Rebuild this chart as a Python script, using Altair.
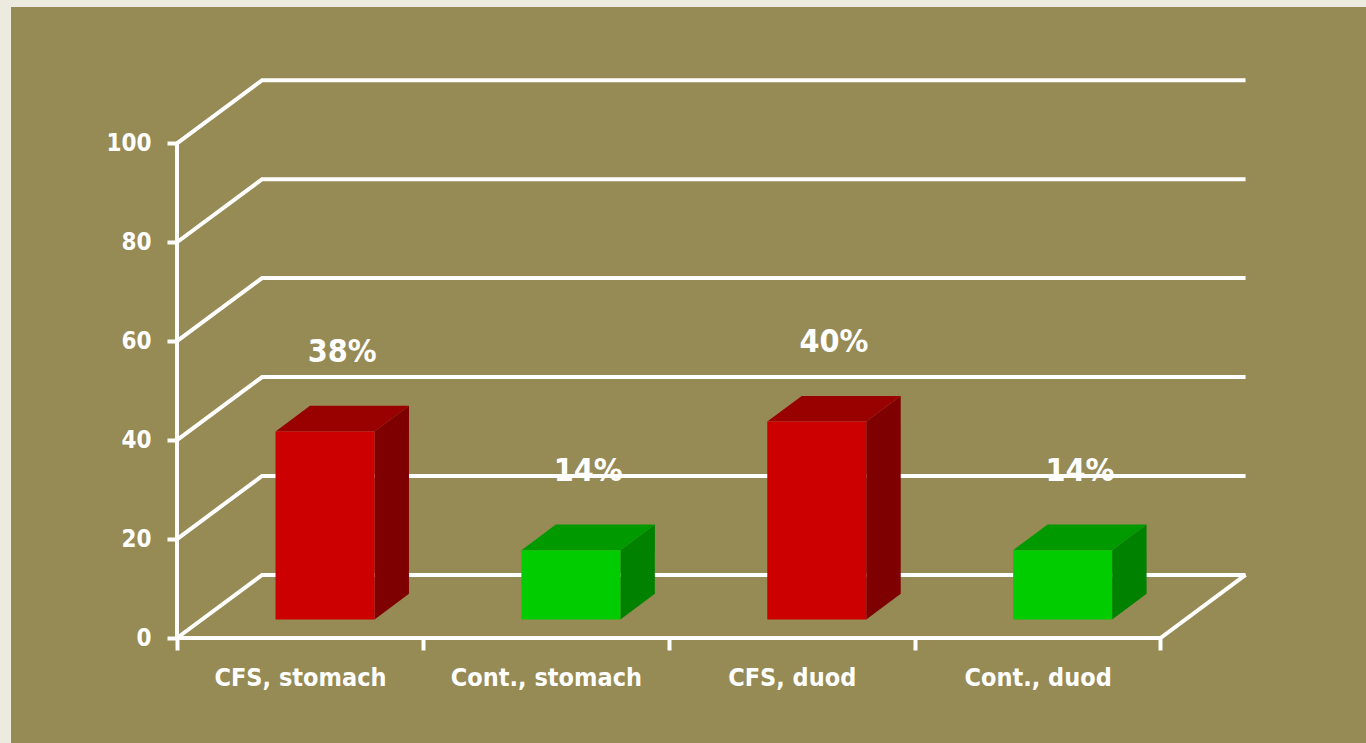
import altair as alt
import pandas as pd

# ---------------- data ----------------
categories = ["CFS, stomach", "Cont., stomach", "CFS, duod", "Cont., duod"]
groups = ["CFS", "Cont.", "CFS", "Cont."]
values = [38, 14, 40, 14]
value_labels = ["38%", "14%", "40%", "14%"]
y_ticks = [0, 20, 40, 60, 80, 100]

# ---------------- style / projection ----------------
PALETTE = {
    "CFS": {"front": "#CC0000", "top": "#990000", "side": "#7F0000"},
    "Cont.": {"front": "#00CC00", "top": "#009900", "side": "#008200"},
}
OLIVE = "#968A55"
FRAME = "#EDEAE0"
FONT = "DejaVu Sans Condensed, Roboto, sans-serif"

DX = 0.346      # depth offset of the back wall (category units)
DY = 12.75      # depth offset of the back wall (value units)
D0, D1 = 0.295, 0.70   # bar depth extent (fraction of full depth)
BAR_W = 0.4026  # bar width (category units)
LABEL_GAP = 13.5
N = len(categories)
X_MAX = N + DX + 0.01
Y_MAX = 113.0
W, H = 1071, 559

# ---------------- derived tables ----------------
front_rows, top_rows, side_rows, label_rows = [], [], [], []
for i, (cat, g, v, lab) in enumerate(zip(categories, groups, values, value_labels)):
    xc = i + 0.5 + D0 * DX
    fL, fR = xc - BAR_W / 2, xc + BAR_W / 2
    base = D0 * DY
    top = base + v
    bx = (D1 - D0) * DX
    by = (D1 - D0) * DY
    front_rows.append(dict(cat=cat, x=fL, x2=fR, y=base, y2=top, fill=PALETTE[g]["front"]))
    for xx, yy, yy2 in [(fL, top, top), (fL + bx, top + by, top), (fR, top + by, top), (fR + bx, top + by, top + by)]:
        top_rows.append(dict(cat=cat, x=xx, y=yy, y2=yy2, fill=PALETTE[g]["top"]))
    for xx, yy, yy2 in [(fR, top, base), (fR + bx, top + by, base + by)]:
        side_rows.append(dict(cat=cat, x=xx, y=yy, y2=yy2, fill=PALETTE[g]["side"]))
    label_rows.append(dict(cat=cat, x=xc + bx / 2, y=top + by / 2 + LABEL_GAP, text=lab))

line_rows = []
for t in y_ticks:
    pts = [(0, t), (DX, t + DY), (N + DX, t + DY)]
    for k, (xx, yy) in enumerate(pts):
        line_rows.append(dict(line=f"grid{t}", o=k, x=xx, y=yy))
for k, (xx, yy) in enumerate([(0, 0), (N, 0), (N + DX, DY)]):
    line_rows.append(dict(line="floor", o=k, x=xx, y=yy))
for k, (xx, yy) in enumerate([(0, 0), (0, y_ticks[-1])]):
    line_rows.append(dict(line="yaxis", o=k, x=xx, y=yy))

front_df = pd.DataFrame(front_rows)
top_df = pd.DataFrame(top_rows)
side_df = pd.DataFrame(side_rows)
label_df = pd.DataFrame(label_rows)
line_df = pd.DataFrame(line_rows)

# ---------------- scales / axes ----------------
label_expr = "[" + ",".join("'" + c + "'" for c in categories) + ",''][datum.value]"
x_scale = alt.Scale(domain=[0, X_MAX], nice=False, zero=False)
y_scale = alt.Scale(domain=[0, Y_MAX], nice=False, zero=False)
x_axis = alt.Axis(values=list(range(N + 1)), labelExpr=label_expr, labelOffset=123,
                  domain=False, grid=False, tickSize=12, tickWidth=4, tickColor="white",
                  labelColor="white", labelFont=FONT, labelFontSize=25, labelFontWeight="bold",
                  labelPadding=15, labelOverlap=False, labelFlush=False, labelLimit=0,
                  title=None, zindex=1)
y_axis = alt.Axis(values=y_ticks, domain=False, grid=False, tickSize=10, tickWidth=4,
                  tickColor="white", labelColor="white", labelFont=FONT, labelFontSize=24,
                  labelFontWeight="bold", labelPadding=16, title=None, zindex=1)


def X(f="x"):
    return alt.X(f"{f}:Q", scale=x_scale, axis=x_axis)


def Y(f="y"):
    return alt.Y(f"{f}:Q", scale=y_scale, axis=y_axis, stack=None)


panel = alt.Chart(pd.DataFrame({"a": [0]})).mark_rect(color=OLIVE).encode(
    x=alt.value(11 - 177), x2=alt.value(W + 130), y=alt.value(7 - 79), y2=alt.value(H + 120)
)

grid = alt.Chart(line_df).mark_line(color="white", strokeWidth=4, strokeJoin="miter").encode(
    x=X(), y=Y(), detail="line:N", order="o:Q"
)

side = alt.Chart(side_df).mark_area(interpolate="linear").encode(
    x=X(), y=Y(), y2="y2:Q", detail="cat:N", fill=alt.Fill("fill:N", scale=None)
)
topf = alt.Chart(top_df).mark_area(interpolate="linear").encode(
    x=X(), y=Y(), y2="y2:Q", detail="cat:N", fill=alt.Fill("fill:N", scale=None)
)
front = alt.Chart(front_df).mark_rect().encode(
    x=X(), x2="x2:Q", y=Y(), y2="y2:Q", fill=alt.Fill("fill:N", scale=None)
)
labels = alt.Chart(label_df).mark_text(
    color="white", font=FONT, fontSize=32, fontWeight="bold", baseline="middle", align="center"
).encode(x=X(), y=Y(), text="text:N")

chart = alt.layer(panel, grid, side, topf, front, labels).properties(
    width=W, height=H,
    autosize=alt.AutoSizeParams(type="none"),
    padding={"left": 177, "top": 79, "right": 118, "bottom": 105},
    background=FRAME,
).configure_view(stroke=None)

chart.save("out.html", embed_options={"renderer": "svg", "actions": False})
